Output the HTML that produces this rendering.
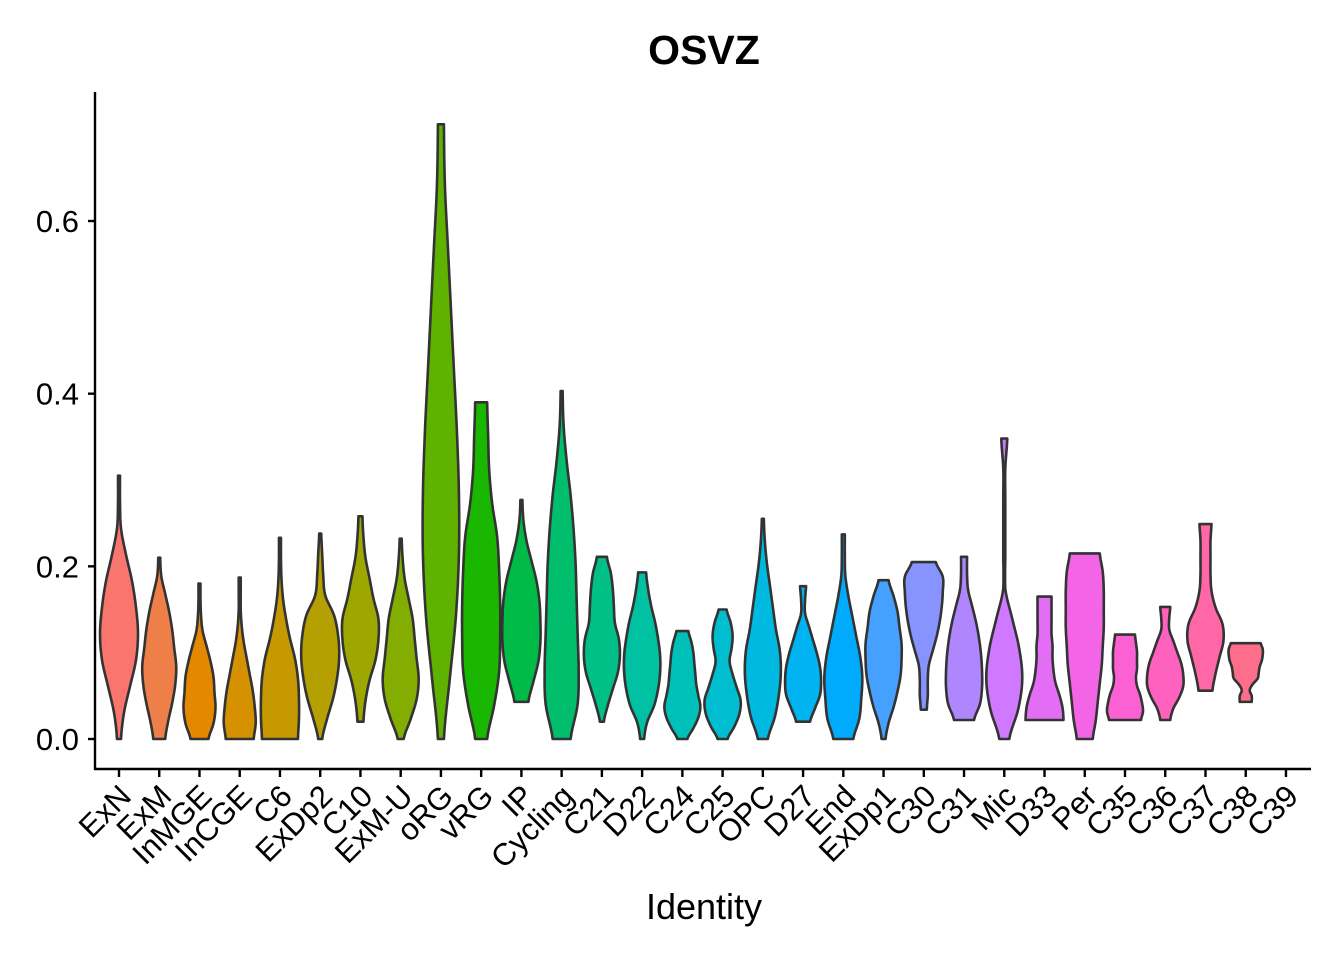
<!DOCTYPE html>
<html><head><meta charset="utf-8"><style>
body{margin:0;background:#fff;}
svg text{font-family:"Liberation Sans",Arial,sans-serif;fill:#000;}
</style></head><body>
<svg id="chart" width="1344" height="960" viewBox="0 0 1344 960">
<text x="704" y="64" text-anchor="middle" font-size="41" font-weight="bold">OSVZ</text>
<text x="704" y="919" text-anchor="middle" font-size="36">Identity</text>
<g id="violins"></g>
<g id="axes"></g>
</svg>
<script>
const categories = ["ExN","ExM","InMGE","InCGE","C6","ExDp2","C10","ExM-U","oRG","vRG","IP","Cycling","C21","D22","C24","C25","OPC","D27","End","ExDp1","C30","C31","Mic","D33","Per","C35","C36","C37","C38","C39"];
const minValues = [0,0,0,0,0,0,0.02,0,0,0,0.043,0,0.02,0,0,0,0,0.02,0,0,0.034,0.022,0,0.022,0,0.022,0.022,0.056,0.043,null];
const maxValues = [0.305,0.21,0.18,0.187,0.233,0.238,0.258,0.232,0.712,0.39,0.277,0.403,0.211,0.193,0.125,0.15,0.255,0.177,0.237,0.184,0.205,0.211,0.348,0.165,0.215,0.121,0.153,0.249,0.111,null];
// relative density (half-width) at 11 evenly spaced levels from min to max
const densities = [
[2,5,11,17,19,17,13,7,2,1,1],
[6,9,13,16,17,15,13,10,6,2,1],
[9,14,16,15,14,11,7,3,1.5,1,1],
[14,16,15,13,10,7,4,2,1,1,1],
[18,19,19,18,15,10,6,3,1.5,1,1],
[2,7,13,17,19,18,14,5,3,2,1],
[3,5,9,15,18,18,13,9,5,3,2],
[3,10,16,18,16,14,12,8,4,2,1],
[3,9,15,18,18,16,13,10,7,4,3],
[6,13,18,19,19,18,16,11,8,7,6],
[7,12,17,19,19,18,15,10,5,2,1],
[9,16,17,16,15,14,12,9,5,2,1],
[2,6,11,16,18,17,13,12,11,9,5],
[2,5,12,16,18,18,16,13,9,6,4],
[5,11,16,18,16,14,13,12,11,9,6],
[5,12,17,18,14,10,7,9,10,8,4],
[5,12,16,18,17,13,10,7,4,2,1],
[7,12,17,18,17,14,10,6,2,2,3],
[10,16,18,19,17,13,9,5,2,1.5,1.5],
[2,5,10,14,17,18,18,16,14,10,5],
[3,4,4,5,9,13,16,18,19,19,12],
[10,16,18,18,17,15,12,8,4,3,3],
[5,14,18,15,8,1,1,1,1,1,3],
[19,18,15,11,9,8,8,7,7,7,7],
[8,11,13,15,17,18,19,19,19,18,15],
[16,18,17,15,12,11,12,12,12,11,10],
[5,8,14,18,18,16,12,8,4,4,5],
[7,10,14,18,17,10,6,5,5,5,6],
[6,6,4,7,12,13,14,16,17,17,15],
null];
const yTicks = [0,0.2,0.4,0.6];
const yTickLabels = ["0.0","0.2","0.4","0.6"];

const NS="http://www.w3.org/2000/svg";
const y0=739, pxPerUnit=863.3, x0=119, step=40.24, halfMax=19;
const yScale=v=>y0-v*pxPerUnit;
const xScale=i=>x0+i*step;

function hcl2hex(h,c,l){
  const Xn=95.047,Yn=100,Zn=108.883;
  const un=4*Xn/(Xn+15*Yn+3*Zn), vn=9*Yn/(Xn+15*Yn+3*Zn);
  const hr=h*Math.PI/180, u=c*Math.cos(hr), v=c*Math.sin(hr);
  const Y=Yn*Math.pow((l+16)/116,3);
  const up=u/(13*l)+un, vp=v/(13*l)+vn;
  const X=9*Y*up/(4*vp), Z=Y*(12-3*up-20*vp)/(4*vp);
  const x=X/100,y=Y/100,z=Z/100;
  let r=3.2404542*x-1.5371385*y-0.4985314*z;
  let g=-0.9692660*x+1.8760108*y+0.0415560*z;
  let b=0.0556434*x-0.2040259*y+1.0572252*z;
  const gm=t=>{t=t<=0.0031308?12.92*t:1.055*Math.pow(t,1/2.4)-0.055;return Math.round(Math.max(0,Math.min(1,t))*255);};
  return "#"+[r,g,b].map(t=>gm(t).toString(16).padStart(2,"0")).join("");
}
function interp(d,t){
  const n=d.length,i=Math.min(Math.floor(t),n-2),f=t-i;
  const p0=d[Math.max(i-1,0)],p1=d[i],p2=d[i+1],p3=d[Math.min(i+2,n-1)];
  const v=0.5*((2*p1)+(-p0+p2)*f+(2*p0-5*p1+4*p2-p3)*f*f+(-p0+3*p1-3*p2+p3)*f*f*f);
  return Math.max(0.8,v);
}
const gv=document.getElementById("violins");
const maxD=19;
const hueStep=360/29;
categories.forEach((cat,i)=>{
  const d=densities[i]; if(!d) return;
  const cx=xScale(i), mn=minValues[i], mx=maxValues[i];
  const N=60, left=[], right=[];
  for(let k=0;k<=N;k++){
    const t=k/N*(d.length-1);
    const w=interp(d,t)/maxD*halfMax;
    const y=yScale(mn+(mx-mn)*k/N);
    left.push([cx-w,y]); right.push([cx+w,y]);
  }
  const pts=left.concat(right.reverse());
  const p=document.createElementNS(NS,"path");
  p.setAttribute("d","M"+pts.map(q=>q[0].toFixed(2)+","+q[1].toFixed(2)).join("L")+"Z");
  p.setAttribute("fill",hcl2hex(15+hueStep*i,100,65));
  p.setAttribute("stroke","#333");
  p.setAttribute("stroke-width","2.6");
  p.setAttribute("stroke-linejoin","round");
  
  
  gv.appendChild(p);
});
const ga=document.getElementById("axes");
function mk(tag,attrs){const e=document.createElementNS(NS,tag);for(const k in attrs)e.setAttribute(k,attrs[k]);ga.appendChild(e);return e;}
const yAxis=mk("line",{x1:95,y1:92,x2:95,y2:770,stroke:"#000","stroke-width":2.4});


const xAxis=mk("line",{x1:94,y1:769,x2:1311,y2:769,stroke:"#000","stroke-width":2.4});


yTicks.forEach((v,k)=>{
  const y=yScale(v);
  const t=mk("line",{x1:88,y1:y,x2:95,y2:y,stroke:"#000","stroke-width":2.4});
  
  
  const l=mk("text",{x:79,y:y+11,"text-anchor":"end","font-size":31});
  l.textContent=yTickLabels[k];
  
  
});
categories.forEach((cat,i)=>{
  const x=xScale(i);
  const t=mk("line",{x1:x,y1:769,x2:x,y2:777,stroke:"#000","stroke-width":2.4});
  
  
  const l=mk("text",{x:x+14,y:798,"text-anchor":"end","font-size":31,transform:`rotate(-45 ${x+14} 798)`});
  l.textContent=cat;
  
  
});
</script>
</body></html>
